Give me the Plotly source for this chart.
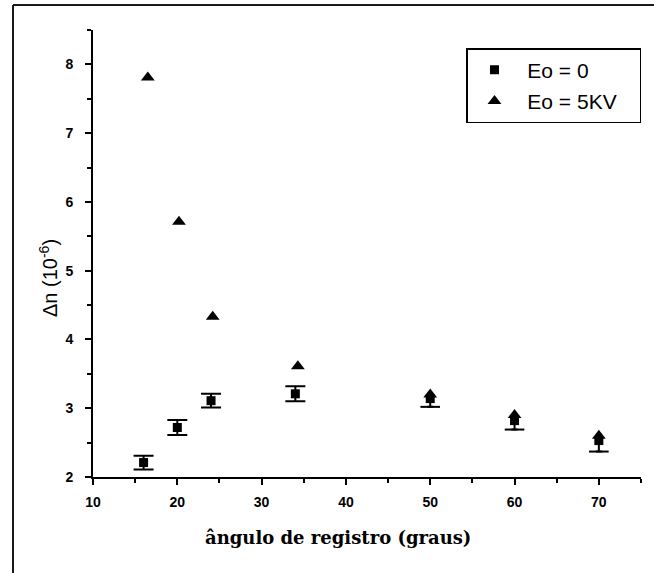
import plotly.graph_objects as go

# Data
angle_e0 = [16, 20, 24, 34, 50, 60, 70]
dn_e0 = [2.21, 2.72, 3.11, 3.21, 3.14, 2.82, 2.53]
err_e0 = [0.10, 0.11, 0.10, 0.11, 0.12, 0.13, 0.16]

angle_e5 = [16.5, 20.2, 24.2, 34.3, 50, 60, 70]
dn_e5 = [7.81, 5.71, 4.33, 3.61, 3.20, 2.90, 2.60]

x_ticks = [10, 20, 30, 40, 50, 60, 70]
y_ticks = [2, 3, 4, 5, 6, 7, 8]

# the upper caps of the last three points are hidden under the triangles
n_full = 4

W, H = 654, 573
L, R, T, B = 93, 13, 30, 96
pw, ph = W - L - R, H - T - B

def px2paper_x(px):
    return (px - L) / pw

def px2paper_y(py):
    return (H - B - py) / ph

fig = go.Figure()
# points with full error bars
fig.add_trace(go.Scatter(
    x=angle_e0[:n_full], y=dn_e0[:n_full], mode="markers",
    name="\u00a0Eo = 0", legendgroup="a",
    marker=dict(symbol="square", size=9, color="black"),
    error_y=dict(type="data", array=err_e0[:n_full], visible=True,
                 color="black", thickness=2, width=10),
))
# points whose upper cap is covered: lower error only
fig.add_trace(go.Scatter(
    x=angle_e0[n_full:], y=dn_e0[n_full:], mode="markers",
    name="Eo = 0", legendgroup="a", showlegend=False,
    marker=dict(symbol="square", size=9, color="black"),
    error_y=dict(type="data", symmetric=False,
                 array=[0] * len(angle_e0[n_full:]),
                 arrayminus=err_e0[n_full:], visible=True,
                 color="black", thickness=2, width=3),
))
# lower caps of those points
fig.add_trace(go.Scatter(
    x=angle_e0[n_full:],
    y=[v - e for v, e in zip(dn_e0[n_full:], err_e0[n_full:])],
    mode="markers", showlegend=False, hoverinfo="skip",
    marker=dict(symbol="line-ew", size=14, color="black",
                line=dict(color="black", width=2)),
))
fig.add_trace(go.Scatter(
    x=angle_e5, y=dn_e5, mode="markers",
    name="\u00a0Eo = 5KV\u00a0\u00a0\u00a0", legendgroup="b",
    marker=dict(symbol="triangle-up", size=12, color="black"),
))

tickfont = dict(family="Liberation Sans, Arial, sans-serif", size=14,
                color="black", weight="bold")
axis_common = dict(showline=True, linewidth=2, linecolor="black",
                   ticks="outside", ticklen=6, tickwidth=2, tickcolor="black",
                   showgrid=False, zeroline=False, tickfont=tickfont,
                   mirror=False)

fig.update_xaxes(range=[10, 75], tickvals=x_ticks, ticklabelstandoff=5,
                 minor=dict(dtick=5, tick0=10, ticks="outside", ticklen=4,
                            tickwidth=1.5, tickcolor="black"),
                 **axis_common)
fig.update_yaxes(range=[2, 8.5], tickvals=y_ticks, ticklabelstandoff=9,
                 minor=dict(dtick=0.5, tick0=2, ticks="outside", ticklen=4,
                            tickwidth=1.5, tickcolor="black"),
                 **axis_common)

fig.update_layout(
    width=W, height=H,
    margin=dict(l=L, r=R, t=T, b=B),
    paper_bgcolor="white", plot_bgcolor="white",
    showlegend=True,
    legend=dict(
        x=px2paper_x(641), y=px2paper_y(48), xanchor="right", yanchor="top",
        bordercolor="black", borderwidth=1.5, bgcolor="white",
        font=dict(family="Liberation Sans, Arial, sans-serif", size=21, color="black"),
        itemwidth=44, tracegroupgap=1, traceorder="grouped",
    ),
    annotations=[
        dict(text="ângulo de registro (graus)", xref="paper", yref="paper",
             x=px2paper_x(338), y=px2paper_y(537), showarrow=False,
             xanchor="center", yanchor="middle",
             font=dict(family="DejaVu Serif, Liberation Serif, serif", size=18,
                       color="black", weight="bold")),
        dict(text="Δn (10<sup>-6</sup>)", xref="paper", yref="paper",
             x=px2paper_x(48), y=px2paper_y(278), showarrow=False,
             textangle=-90, xanchor="center", yanchor="middle",
             font=dict(family="Liberation Sans, Arial, sans-serif", size=20,
                       color="black")),
    ],
    shapes=[
        dict(type="line", xref="paper", yref="paper",
             x0=px2paper_x(13), x1=px2paper_x(13),
             y0=px2paper_y(5), y1=px2paper_y(580),
             line=dict(color="#1a1a1a", width=2)),
        dict(type="line", xref="paper", yref="paper",
             x0=px2paper_x(13), x1=px2paper_x(660),
             y0=px2paper_y(5), y1=px2paper_y(5),
             line=dict(color="#1a1a1a", width=2)),
    ],
)

fig.write_html("out.html")
